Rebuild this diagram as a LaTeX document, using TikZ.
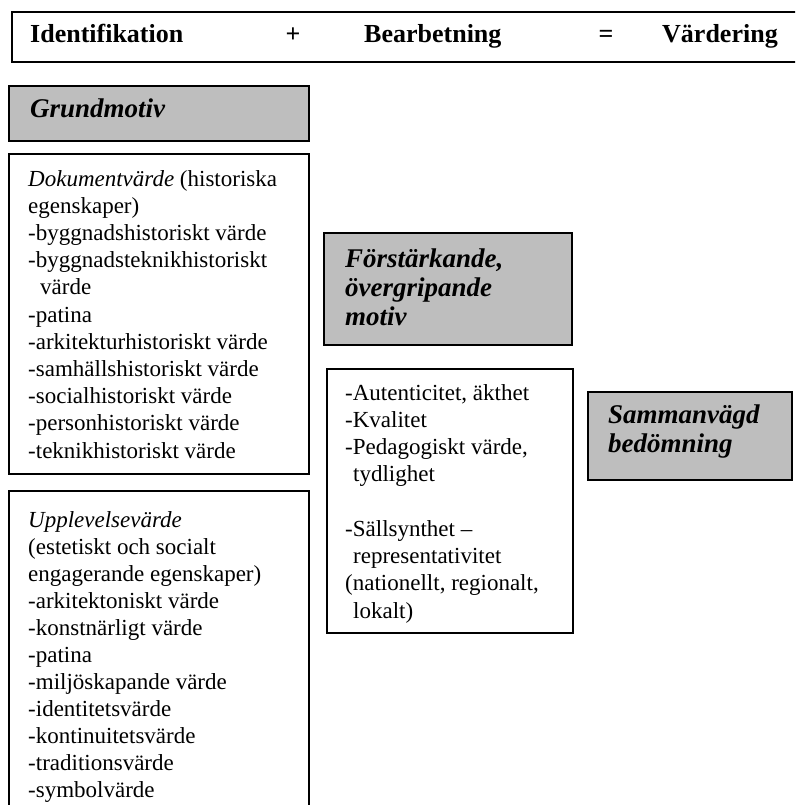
\documentclass[tikz,border=0pt]{standalone}
\usepackage{fontspec}
\setmainfont{Liberation Serif}
\definecolor{boxgray}{RGB}{190,190,190}
\newcommand{\linestack}[2]{\vtop{\baselineskip=#1\lineskiplimit=-30pt\lineskip=0pt #2}}
\begin{document}
\begin{tikzpicture}[x=1pt,y=-1pt,
  frame/.style={draw=black, line width=1.6pt, inner sep=0pt, anchor=north west},
  graybox/.style={frame, fill=boxgray},
  body/.style={anchor=base west, inner sep=0pt, font=\fontsize{23}{27}\selectfont},
  head/.style={anchor=base west, inner sep=0pt, font=\fontsize{27}{29}\selectfont\bfseries\itshape},
  titletext/.style={inner sep=0pt, font=\fontsize{26}{30}\selectfont\bfseries}]
\useasboundingbox (0,0) rectangle (795,805);
\clip (0,0) rectangle (795,805);

% top bar
\node[frame, minimum width=790pt, minimum height=50pt] (topbar) at (11,11) {};
\node[titletext, anchor=base west] (ident) at (30,43) {Identifikation};
\node[titletext, anchor=base] (plus) at (293,43) {+};
\node[titletext, anchor=base west] (bearb) at (364,43) {Bearbetning};
\node[titletext, anchor=base] (eq) at (606,43) {=};
\node[titletext, anchor=base west] (vard) at (662,43) {Värdering};

% Grundmotiv
\node[graybox, minimum width=300pt, minimum height=55pt] (grundbox) at (8,85) {};
\node[head] (grund) at (30,118) {Grundmotiv};

% Dokumentvarde
\node[frame, minimum width=300pt, minimum height=320pt] (dokbox) at (8,153) {};
\node[body] (dok) at (28,186) {\linestack{27.2pt}{%
  \hbox{\textit{Dokumentvärde} (historiska}
  \hbox{egenskaper)}
  \hbox{-byggnadshistoriskt värde}
  \hbox{-byggnadsteknikhistoriskt}
  \hbox{\hspace{12pt}värde}
  \hbox{-patina}
  \hbox{-arkitekturhistoriskt värde}
  \hbox{-samhällshistoriskt värde}
  \hbox{-socialhistoriskt värde}
  \hbox{-personhistoriskt värde}
  \hbox{-teknikhistoriskt värde}}};

% Upplevelsevarde
\node[frame, minimum width=300pt, minimum height=340pt] (uppbox) at (8,490) {};
\node[body] (upp) at (28,527) {\linestack{27pt}{%
  \hbox{\textit{Upplevelsevärde}}
  \hbox{(estetiskt och socialt}
  \hbox{engagerande egenskaper)}
  \hbox{-arkitektoniskt värde}
  \hbox{-konstnärligt värde}
  \hbox{-patina}
  \hbox{-miljöskapande värde}
  \hbox{-identitetsvärde}
  \hbox{-kontinuitetsvärde}
  \hbox{-traditionsvärde}
  \hbox{-symbolvärde}}};

% Forstarkande
\node[graybox, minimum width=248pt, minimum height=112pt] (forbox) at (323,232) {};
\node[head] (for) at (345,267) {\linestack{29pt}{%
  \hbox{Förstärkande,}
  \hbox{övergripande}
  \hbox{motiv}}};

% middle list
\node[frame, minimum width=246pt, minimum height=264pt] (midbox) at (326,368) {};
\node[body] (mid) at (345,400) {\linestack{27.25pt}{%
  \hbox{-Autenticitet, äkthet}
  \hbox{-Kvalitet}
  \hbox{-Pedagogiskt värde,}
  \hbox{\hspace{8pt}tydlighet}
  \hbox{}
  \hbox{-Sällsynthet –}
  \hbox{\hspace{8pt}representativitet}
  \hbox{(nationellt, regionalt,}
  \hbox{\hspace{8pt}lokalt)}}};

% Sammanvagd
\node[graybox, minimum width=204pt, minimum height=88pt] (sambox) at (587,391) {};
\node[head] (sam) at (608,423) {\linestack{29pt}{%
  \hbox{Sammanvägd}
  \hbox{bedömning}}};
\end{tikzpicture}
\end{document}
